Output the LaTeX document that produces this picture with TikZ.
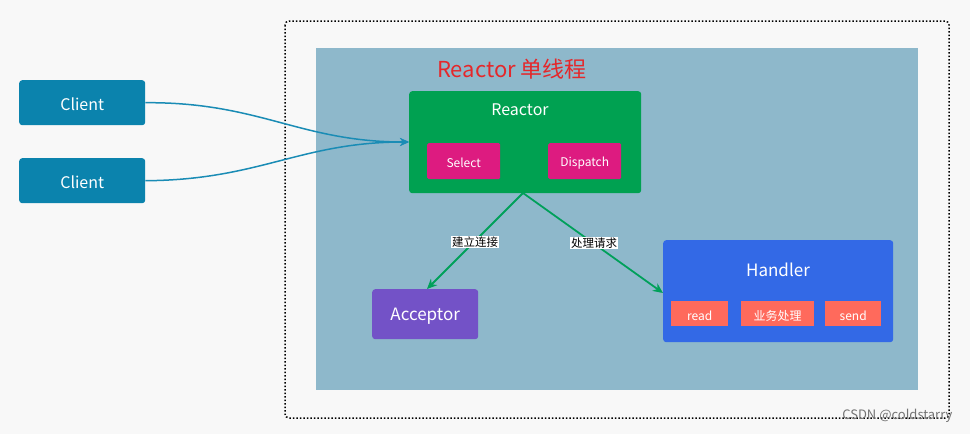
\documentclass[tikz,border=0pt]{standalone}
\usepackage{fontspec}
\setmainfont{Noto Sans CJK SC}
\usetikzlibrary{arrows.meta}
\definecolor{bgc}{HTML}{F8F8F8}
\definecolor{panel}{HTML}{8EB8CB}
\definecolor{clientc}{HTML}{0B83AD}
\definecolor{reactorc}{HTML}{00A151}
\definecolor{pinkc}{HTML}{DD1B80}
\definecolor{acceptc}{HTML}{7352C7}
\definecolor{handc}{HTML}{3369E6}
\definecolor{coralc}{HTML}{FF6A5C}
\definecolor{titlec}{HTML}{E5272A}
\definecolor{linkc}{HTML}{1A8CB5}
\definecolor{greenl}{HTML}{00A05A}
\tikzset{
  box/.style={draw=none, rounded corners=3pt, text=white, inner sep=0pt, anchor=north west},
  small/.style={box, rounded corners=1.5pt},
  wt/.style={text=white, yshift=-2pt, font=\fontsize{#1}{#1}\selectfont},
  cconn/.style={draw=linkc, line width=1.5pt, -{Stealth[length=9pt,width=8pt]}},
  gconn/.style={draw=greenl, line width=1.8pt, -{Stealth[length=10pt,width=9pt]}},
  lbl/.style={fill=white, text=black, inner sep=1pt, font=\fontsize{11.5}{13}\selectfont}
}
\begin{document}
\begin{tikzpicture}[x=1pt,y=-1pt]
\fill[bgc] (0,0) rectangle (970,434);
\useasboundingbox (0,0) rectangle (970,434);
% dotted frame
\draw[black, line width=1.5pt, dotted, rounded corners=4pt] (285,21) rectangle (949,418);
% panel
\fill[panel] (316,48) rectangle (918,390);
% title
\node[text=titlec, yshift=-1pt, font=\fontsize{22}{26}\selectfont] (title) at (512,68) {Reactor 单线程};
% clients
\node[box, fill=clientc, minimum width=126pt, minimum height=45pt] (c1) at (19,80) {};
\node[wt=16] (c1t) at (c1.center) {Client};
\node[box, fill=clientc, minimum width=126pt, minimum height=45pt] (c2) at (19,158) {};
\node[wt=16] (c2t) at (c2.center) {Client};
% reactor
\node[box, fill=reactorc, minimum width=232pt, minimum height=102pt] (reactor) at (409,91) {};
\node[wt=16] (rt) at (520,108) {Reactor};
\node[small, fill=pinkc, minimum width=73pt, minimum height=36pt] (sel) at (427,143) {};
\node[wt=12] (selt) at (sel.center) {Select};
\node[small, fill=pinkc, minimum width=73pt, minimum height=36pt] (disp) at (548,143) {};
\node[wt=12] (dispt) at (disp.center) {Dispatch};
% acceptor
\node[box, fill=acceptc, minimum width=106pt, minimum height=50pt] (acc) at (372,289) {};
\node[wt=17] (acct) at (acc.center) {Acceptor};
% handler
\node[box, fill=handc, minimum width=230pt, minimum height=102pt] (hand) at (663,240) {};
\node[wt=17] (handt) at (778,268) {Handler};
\node[small, rounded corners=0pt, fill=coralc, minimum width=57pt, minimum height=25pt] (rd) at (671,301) {};
\node[wt=12] (rdt) at (rd.center) {read};
\node[small, rounded corners=0pt, fill=coralc, minimum width=73pt, minimum height=25pt] (biz) at (741,301) {};
\node[wt=12] (bizt) at (biz.center) {业务处理};
\node[small, rounded corners=0pt, fill=coralc, minimum width=56pt, minimum height=25pt] (snd) at (825,301) {};
\node[wt=12] (sndt) at (snd.center) {send};
% connectors
\coordinate (rin) at (409,142);
\coordinate (rb) at (523,193);
\coordinate (accin) at (427,289);
\coordinate (hin) at (663,293);
\draw[cconn] (c1.east) .. controls (260,102) and (300,142) .. (rin);
\draw[cconn] (c2.east) .. controls (260,180) and (300,142) .. (rin);
\draw[gconn] (rb) -- (accin);
\draw[gconn] (rb) -- (hin);
\node[lbl] (l1) at (475,242) {建立连接};
\node[lbl] (l2) at (594,243) {处理请求};
% watermark
\node[text=black!55, font=\fontsize{13}{15}\selectfont, anchor=east] (wm) at (956,416) {CSDN @coldstarry};
\end{tikzpicture}
\end{document}
